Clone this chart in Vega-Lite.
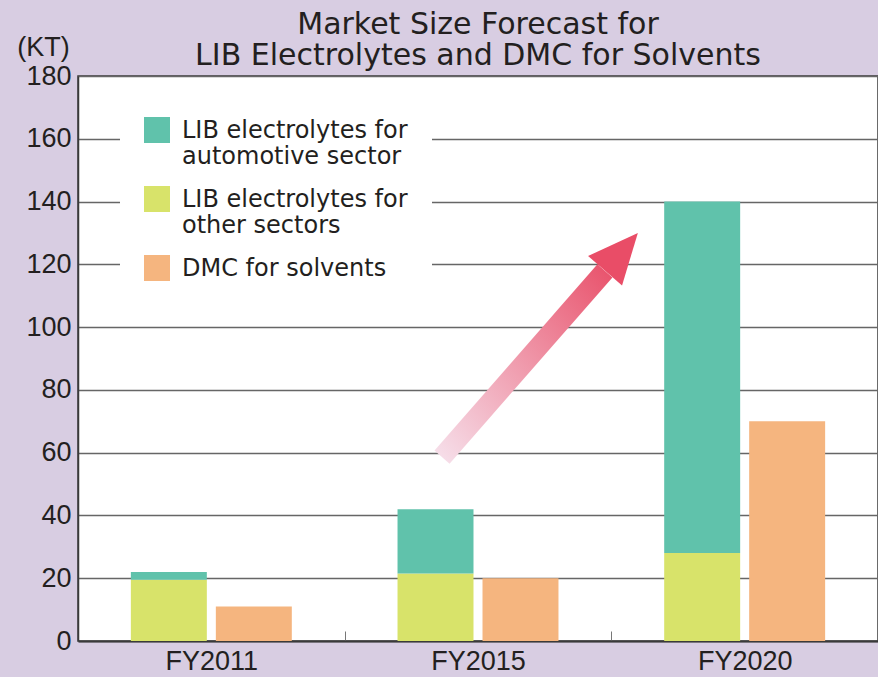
{
  "$schema": "https://vega.github.io/schema/vega-lite/v6.json",
  "width": 800,
  "height": 565,
  "autosize": {"type": "none"},
  "padding": {"left": 78, "top": 76, "right": 0, "bottom": 36},
  "background": "#d8cde2",
  "config": {
    "font": "Liberation Sans",
    "view": {"fill": "white", "stroke": "#3a3a3a", "strokeWidth": 1.5}
  },
  "title": {
    "text": ["Market Size Forecast for", "LIB Electrolytes and DMC for Solvents"],
    "font": "DejaVu Sans",
    "fontSize": 30,
    "fontWeight": "normal",
    "color": "#231f20",
    "lineHeight": 31,
    "anchor": "middle",
    "offset": 6,
    "dy": 44
  },
  "datasets": {
    "bars": [
      {"year": "FY2011", "group": "LIB", "type": "LIB electrolytes for other sectors", "value": 19.5},
      {"year": "FY2011", "group": "LIB", "type": "LIB electrolytes for automotive sector", "value": 2.5},
      {"year": "FY2011", "group": "DMC", "type": "DMC for solvents", "value": 11},
      {"year": "FY2015", "group": "LIB", "type": "LIB electrolytes for other sectors", "value": 21.5},
      {"year": "FY2015", "group": "LIB", "type": "LIB electrolytes for automotive sector", "value": 20.5},
      {"year": "FY2015", "group": "DMC", "type": "DMC for solvents", "value": 20},
      {"year": "FY2020", "group": "LIB", "type": "LIB electrolytes for other sectors", "value": 28},
      {"year": "FY2020", "group": "LIB", "type": "LIB electrolytes for automotive sector", "value": 112},
      {"year": "FY2020", "group": "DMC", "type": "DMC for solvents", "value": 70}
    ],
    "arrow": [
      {"ax": 1.365, "value": 58.6},
      {"ax": 1.976, "value": 117.9}
    ],
    "head": [
      {"ax": 2.038, "value": 124.0}
    ]
  },
  "layer": [
    {
      "data": {"name": "bars"},
      "mark": {"type": "bar"},
      "encoding": {
        "x": {
          "field": "year",
          "type": "nominal",
          "scale": {"paddingInner": 0, "paddingOuter": 0},
          "axis": {
            "title": null,
            "labelAngle": 0,
            "labelFontSize": 27,
            "labelColor": "#231f20",
            "labelPadding": 17,
            "domainColor": "#3a3a3a",
            "domainWidth": 2,
            "tickBand": "extent",
            "tickSize": -10,
            "tickColor": "#777777",
            "tickWidth": 1
          }
        },
        "xOffset": {
          "field": "group",
          "type": "nominal",
          "sort": ["LIB", "DMC"],
          "scale": {"paddingInner": 0.106, "paddingOuter": 0.622}
        },
        "y": {
          "field": "value",
          "type": "quantitative",
          "stack": "zero",
          "title": "(KT)",
          "scale": {"domain": [0, 180]},
          "axis": {
            "values": [0, 20, 40, 60, 80, 100, 120, 140, 160, 180],
            "labelFontSize": 27,
            "labelColor": "#231f20",
            "tickSize": 0,
            "labelPadding": 7,
            "domainColor": "#3a3a3a",
            "domainWidth": 1.5,
            "gridColor": "#666666",
            "gridWidth": 1.3,
            "titleAngle": 0,
            "titleFontSize": 27,
            "titleFontWeight": "normal",
            "titleColor": "#231f20",
            "titleX": -35,
            "titleY": -21,
            "titleAlign": "center",
            "titleBaseline": "alphabetic"
          }
        },
        "color": {
          "field": "type",
          "type": "nominal",
          "scale": {
            "domain": ["LIB electrolytes for automotive sector", "LIB electrolytes for other sectors", "DMC for solvents"],
            "range": ["#60c2ab", "#d8e36a", "#f5b57f"]
          },
          "legend": {
            "orient": "none",
            "legendX": 42,
            "legendY": 6,
            "title": null,
            "fillColor": "white",
            "padding": 24,
            "symbolType": "M-1,-0.154H1V1.846H-1Z",
            "symbolSize": 676,
            "symbolStrokeWidth": 0,
            "symbolOpacity": 1,
            "labelFont": "DejaVu Sans",
            "labelFontSize": 24,
            "labelColor": "#231f20",
            "labelOffset": 12,
            "labelLimit": 0,
            "rowPadding": 6,
            "labelBaseline": "top",
            "labelExpr": "datum.label == 'DMC for solvents' ? datum.label : [slice(datum.label, 0, 20), slice(datum.label, 21)]"
          }
        },
        "order": {"field": "type", "sort": "descending"}
      }
    },
    {
      "data": {"name": "arrow"},
      "mark": {
        "type": "line",
        "strokeWidth": 20,
        "strokeCap": "butt",
        "color": {
          "gradient": "linear",
          "x1": 0, "y1": 1, "x2": 1, "y2": 0,
          "stops": [
            {"offset": 0, "color": "#f6dde8"},
            {"offset": 1, "color": "#e9566f"}
          ]
        }
      },
      "encoding": {
        "x": {"field": "ax", "type": "quantitative", "scale": {"domain": [0, 3]}, "axis": null},
        "y": {"field": "value", "type": "quantitative", "title": "(KT)"}
      }
    },
    {
      "data": {"name": "head"},
      "mark": {
        "type": "point",
        "shape": "M0,-1L0.9,1L-0.9,1Z",
        "filled": true,
        "size": 2500,
        "angle": 41,
        "color": "#e94d67",
        "opacity": 1
      },
      "encoding": {
        "x": {"field": "ax", "type": "quantitative", "scale": {"domain": [0, 3]}, "axis": null},
        "y": {"field": "value", "type": "quantitative", "title": "(KT)"}
      }
    }
  ],
  "resolve": {"scale": {"x": "independent"}}
}
